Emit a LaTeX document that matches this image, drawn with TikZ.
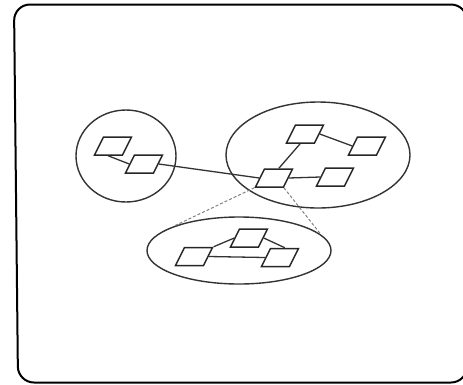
\documentclass[tikz,border=0pt]{standalone}
\usetikzlibrary{shapes.geometric}
\begin{document}
\begin{tikzpicture}[x=1pt,y=-1pt,
  pnode/.style={draw=black!85, line width=1.5pt, xslant=0.5, minimum width=28pt, minimum height=18pt, inner sep=0pt, fill=white},
  group/.style={draw=black!80, line width=1.4pt, ellipse, inner sep=0pt},
  link/.style={draw=black!80, line width=1.3pt},
  dlink/.style={draw=black!50, line width=1pt, dash pattern=on 3pt off 2pt}]
\useasboundingbox (0,0) rectangle (463,384);
% frame
\draw[line width=2pt, rounded corners=16] (240,4.5) -- (467,4.5) -- (467,382.5) -- (18,382.5) -- (14,4.5) -- cycle;
% groups
\node[group, minimum width=100pt, minimum height=92pt] (g1) at (126,156) {};
\node[group, minimum width=184pt, minimum height=106pt] (g2) at (318,155) {};
\node[group, minimum width=184pt, minimum height=67pt] (g3) at (239,250.5) {};
% group 1 nodes
\node[pnode] (n1) at (113,146) {};
\node[pnode] (n2) at (144,164) {};
% group 2 nodes
\node[pnode] (a) at (305,134) {};
\node[pnode] (b) at (367,146) {};
\node[pnode] (c) at (274,178) {};
\node[pnode] (d) at (335,177) {};
% group 3 nodes
\node[pnode] (e) at (249,238) {};
\node[pnode] (f) at (194,256.5) {};
\node[pnode] (g) at (280,257.5) {};
% links
\draw[link] (n1.south) -- (n2.west);
\draw[link] (n2.east) -- (c.west);
\draw[link] (a.east) -- (b.west);
\draw[link] (a.south) -- (c.north);
\draw[link] (c.east) -- (d.west);
\draw[link] (f.north east) -- (e.west);
\draw[link] (e.east) -- (g.north);
\draw[link] (f.east) -- (g.west);
% dashed zoom lines
\draw[dlink] (c.south west) -- (g3.north west);
\draw[dlink] (c.south east) -- (g3.11);
\end{tikzpicture}
\end{document}
